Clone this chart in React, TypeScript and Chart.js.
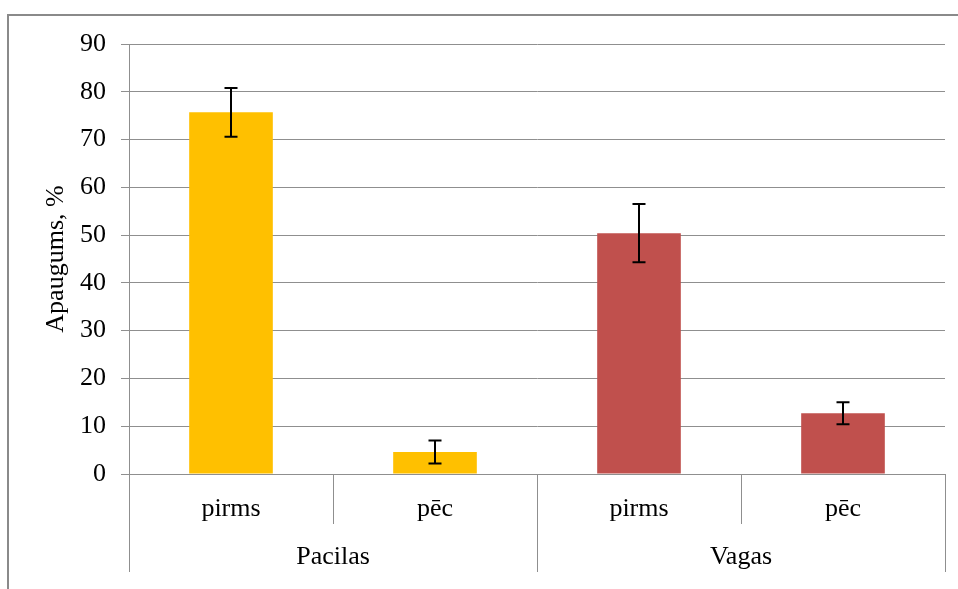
import React, { useEffect, useRef } from "react";
import { Chart, registerables } from "chart.js";

Chart.register(...registerables);

const categories = ["pirms", "pēc", "pirms", "pēc"];
const groups = ["Pacilas", "Vagas"];
const groupSizes = [2, 2];
const values = [75.7, 4.6, 50.4, 12.7];
const errors = [5.1, 2.4, 6.1, 2.3];
const barColors = ["#FFC000", "#FFC000", "#C0504D", "#C0504D"];
const yTitle = "Apaugums, %";
const yMin = 0;
const yMax = 90;
const yStep = 10;

const FONT = "'Liberation Serif', 'Times New Roman', serif";
const FS = 26;
const GRID = "#8f8f8f";

const extrasPlugin = {
  id: "extras",
  afterDatasetsDraw(chart: any) {
    const { ctx } = chart;
    const meta = chart.getDatasetMeta(0);
    const y = chart.scales.y;
    ctx.save();
    ctx.strokeStyle = "#000";
    ctx.lineWidth = 2;
    meta.data.forEach((bar: any, i: number) => {
      const x = Math.round(bar.x);
      const yt = y.getPixelForValue(values[i] + errors[i]);
      const yb = y.getPixelForValue(values[i] - errors[i]);
      ctx.beginPath();
      ctx.moveTo(x, yt);
      ctx.lineTo(x, yb);
      ctx.moveTo(x - 6.5, yt);
      ctx.lineTo(x + 6.5, yt);
      ctx.moveTo(x - 6.5, yb);
      ctx.lineTo(x + 6.5, yb);
      ctx.stroke();
    });
    ctx.restore();
  },
  afterDraw(chart: any) {
    const { ctx, chartArea } = chart;
    const n = categories.length;
    const cw = (chartArea.right - chartArea.left) / n;
    const base = chartArea.bottom;
    ctx.save();
    ctx.strokeStyle = GRID;
    ctx.lineWidth = 1;
    let idx = 0;
    const groupBounds: number[] = [0];
    groupSizes.forEach((s) => {
      for (let k = 1; k < s; k++) {
        const x = Math.round(chartArea.left + (idx + k) * cw) + 0.5;
        ctx.beginPath();
        ctx.moveTo(x, base);
        ctx.lineTo(x, base + 50);
        ctx.stroke();
      }
      idx += s;
      groupBounds.push(idx);
    });
    groupBounds.forEach((b) => {
      const x = Math.round(chartArea.left + b * cw) + 0.5;
      ctx.beginPath();
      ctx.moveTo(x, base);
      ctx.lineTo(x, base + 98);
      ctx.stroke();
    });
    ctx.fillStyle = "#000";
    ctx.font = `${FS}px ${FONT}`;
    ctx.textAlign = "center";
    ctx.textBaseline = "middle";
    let start = 0;
    groups.forEach((g, gi) => {
      const s = groupSizes[gi];
      const cx = chartArea.left + (start + s / 2) * cw;
      ctx.fillText(g, cx, base + 83);
      start += s;
    });
    ctx.translate(56, (chartArea.top + chartArea.bottom) / 2);
    ctx.rotate(-Math.PI / 2);
    ctx.fillText(yTitle, 0, 0);
    ctx.restore();
  },
};

export default function App() {
  const ref = useRef<HTMLCanvasElement>(null);
  useEffect(() => {
    if (!ref.current) return;
    const chart = new Chart(ref.current, {
      type: "bar",
      data: {
        labels: categories,
        datasets: [
          {
            data: values,
            backgroundColor: barColors,
            borderWidth: 0,
            barPercentage: 0.41,
            categoryPercentage: 1,
          },
        ],
      },
      options: {
        animation: false,
        responsive: false,
        maintainAspectRatio: false,
        layout: { padding: { top: 44, right: 13, left: 0, bottom: 0 } },
        plugins: {
          legend: { display: false },
          tooltip: { enabled: false },
        },
        scales: {
          x: {
            grid: { display: false },
            border: { display: true, color: GRID, width: 1 },
            ticks: {
              color: "#000",
              font: { family: FONT, size: FS },
              padding: 12,
              maxRotation: 0,
              autoSkip: false,
            },
            afterFit(scale: any) {
              scale.height = 115;
            },
          },
          y: {
            min: yMin,
            max: yMax,
            grid: { color: GRID, tickLength: 8, drawTicks: true },
            border: { display: true, color: GRID, width: 1 },
            ticks: {
              stepSize: yStep,
              color: "#000",
              font: { family: FONT, size: FS },
              padding: 15,
            },
            afterFit(scale: any) {
              scale.width = 129;
            },
          },
        },
      },
      plugins: [extrasPlugin],
    });
    return () => chart.destroy();
  }, []);

  return (
    <div
      style={{
        position: "absolute",
        left: 0,
        top: 0,
        width: 958,
        height: 589,
        overflow: "hidden",
        background: "#fff",
      }}
    >
      <div
        style={{
          position: "absolute",
          left: 7,
          top: 14,
          width: 1200,
          height: 1200,
          borderLeft: "2px solid #8a8a8a",
          borderTop: "2px solid #8a8a8a",
        }}
      />
      <canvas
        ref={ref}
        width={958}
        height={589}
        style={{ position: "absolute", left: 0, top: 0, width: 958, height: 589 }}
      />
    </div>
  );
}
